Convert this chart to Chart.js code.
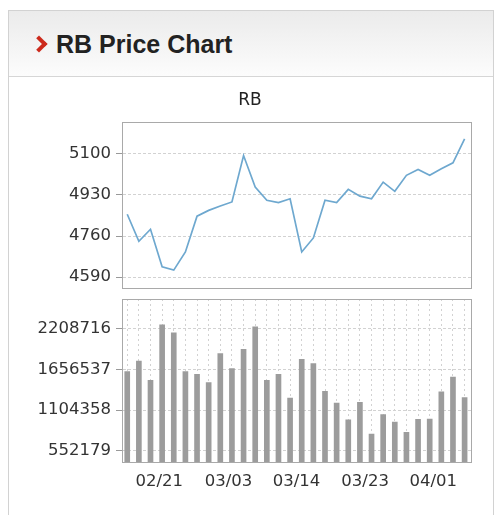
<!DOCTYPE html>
<html>
<head>
<meta charset="utf-8">
<script src="https://cdn.jsdelivr.net/npm/chart.js"></script>
<style>
body{margin:0;background:#fff;font-family:"Liberation Sans",Arial,sans-serif}
#box{position:absolute;left:8px;top:10px;width:484px;height:520px;border:1px solid #d2d2d2;background:#fff}
#head{position:absolute;left:0;top:0;width:484px;height:65px;background:linear-gradient(#ebebeb,#fcfcfc);border-bottom:1px solid #d6d6d6}
#arrow{position:absolute;left:24px;top:27px;width:8px;height:8px;border-top:4px solid #cc2a1c;border-right:4px solid #cc2a1c;transform:rotate(45deg)}
#title{position:absolute;left:47px;top:21px;font-weight:bold;font-size:25px;line-height:25px;color:#222}
.c{position:absolute;left:10px}
</style>
</head>
<body>
<div id="box">
  <div id="head"><div id="arrow"></div><div id="title">RB Price Chart</div></div>
</div>
<canvas id="price" class="c" width="480" height="216" style="top:82px"></canvas>
<canvas id="volume" class="c" width="480" height="215" style="top:290px"></canvas>
<script>
var priceValues = [4850, 4738, 4788, 4633, 4619, 4694, 4842, 4866, 4884, 4901, 5093, 4963, 4908, 4898, 4914,
                   4694, 4752, 4908, 4898, 4953, 4925, 4914, 4983, 4945, 5011, 5035, 5011, 5038, 5063, 5162]
var volumeValues = [1627000, 1771000, 1509000, 2263000, 2155000, 1627000, 1591000, 1478000, 1871000, 1667000,
                    1929000, 2236000, 1509000, 1591000, 1266000, 1794000, 1735000, 1360000, 1198000, 972000,
                    1211000, 778000, 1044000, 940000, 800000, 977000, 981000, 1351000, 1554000, 1275000]
var priceTicks = [4590, 4760, 4930, 5100]
var volumeTicks = [552179, 1104358, 1656537, 2208716]
var dateLabels = ["02/21", "03/03", "03/14", "03/23", "04/01"]
var datePos = [2.75, 8.7, 14.55, 20.45, 26.3]

var xMin = -0.45, xMax = 29.55
var tickFont = {family: "DejaVu Sans", size: 16.5}
var gridColor = "#d2d2d2"

// box round the plot area
var framePlugin = {
  id: "frame",
  afterDraw: function(chart){
    var a = chart.chartArea
    var ctx = chart.ctx
    ctx.save()
    ctx.strokeStyle = "#a9a9a9"
    ctx.lineWidth = 1
    ctx.strokeRect(Math.round(a.left) + 0.5, Math.round(a.top) + 0.5, Math.round(a.right - a.left), Math.round(a.bottom - a.top))
    ctx.restore()
  }
}

function yAxis(min, max, ticks){
  return {
    min: min,
    max: max,
    afterBuildTicks: function(s){ s.ticks = ticks.map(function(v){ return {value: v} }) },
    afterFit: function(s){ s.width = 93; s.paddingTop = 0; s.paddingBottom = 0 },
    ticks: {color: "#333", font: tickFont, padding: 5, callback: function(v){ return String(v) }},
    grid: {color: gridColor, tickColor: "#999", tickLength: 6, tickBorderDash: []},
    border: {dash: [3, 2], color: "#a9a9a9"}
  }
}

Chart.defaults.animation = false

new Chart("price", {
  type: "line",
  data: {
    datasets: [{
      data: priceValues.map(function(v, i){ return {x: i, y: v} }),
      borderColor: "#6ea8cf",
      borderWidth: 1.7,
      pointRadius: 0,
      tension: 0
    }]
  },
  options: {
    responsive: false,
    layout: {padding: {left: 19, right: 19, top: 0, bottom: 10}},
    plugins: {
      legend: {display: false},
      tooltip: {enabled: false},
      title: {display: true, text: "RB", color: "#222", font: {family: "DejaVu Sans", size: 17, weight: "normal"}, padding: {top: 8, bottom: 12}}
    },
    scales: {
      x: {type: "linear", min: xMin, max: xMax, display: false, offset: false},
      y: yAxis(4545, 5230, priceTicks)
    }
  },
  plugins: [framePlugin]
})

new Chart("volume", {
  type: "bar",
  data: {
    datasets: [{
      data: volumeValues.map(function(v, i){ return {x: i, y: v} }),
      backgroundColor: "#9c9c9c",
      barThickness: 5
    }]
  },
  options: {
    responsive: false,
    layout: {padding: {left: 19, right: 19, top: 9, bottom: 3}},
    plugins: {legend: {display: false}, tooltip: {enabled: false}},
    scales: {
      x: {
        type: "linear", min: xMin, max: xMax, offset: false,
        afterBuildTicks: function(s){ s.ticks = volumeValues.map(function(v, i){ return {value: i} }) },
        afterFit: function(s){ s.paddingLeft = 0; s.paddingRight = 0 },
        ticks: {display: false},
        grid: {color: gridColor, drawTicks: false, offset: false},
        border: {display: false, dash: [2, 3]}
      },
      x2: {
        type: "linear", position: "bottom", min: xMin, max: xMax, offset: false,
        afterBuildTicks: function(s){ s.ticks = datePos.map(function(v){ return {value: v} }) },
        afterFit: function(s){ s.paddingLeft = 0; s.paddingRight = 0 },
        ticks: {
          autoSkip: false, maxRotation: 0, padding: 10, color: "#333", font: tickFont,
          callback: function(v, i){ return dateLabels[i] }
        },
        grid: {display: false, drawTicks: false, offset: false},
        border: {display: false}
      },
      y: yAxis(395000, 2615000, volumeTicks)
    }
  },
  plugins: [framePlugin]
})
</script>
</body>
</html>
